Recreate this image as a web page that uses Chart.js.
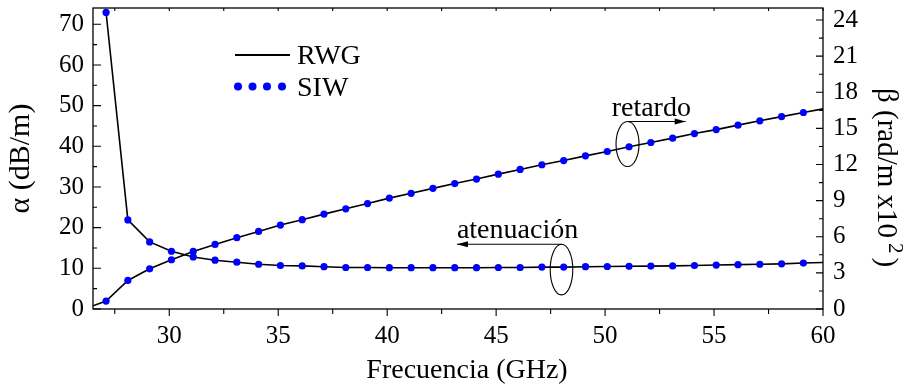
<!DOCTYPE html>
<html>
<head>
<meta charset="utf-8">
<script src="https://cdn.jsdelivr.net/npm/chart.js@4.4.1/dist/chart.umd.min.js"></script>
<style>
  body { margin: 0; background: #fff; }
  #wrap { width: 914px; height: 388px; }
</style>
</head>
<body>
<div id="wrap"><canvas id="chart-siw" width="914" height="388"></canvas></div>
<script>
// Frequency sweep (GHz)
const rwgFreq = [26.5, 27.1, 28.1, 29.1, 30.1, 31.1, 32.1, 33.1, 34.1, 35.1, 36.1, 37.1, 38.1, 39.1, 40.1,
    41.1, 42.1, 43.1, 44.1, 45.1, 46.1, 47.1, 48.1, 49.1, 50.1, 51.1, 52.1, 53.1, 54.1, 55.1,
    56.1, 57.1, 58.1, 59.1, 60];
const siwFreq = [27.1, 28.1, 29.1, 30.1, 31.1, 32.1, 33.1, 34.1, 35.1, 36.1, 37.1, 38.1, 39.1, 40.1,
    41.1, 42.1, 43.1, 44.1, 45.1, 46.1, 47.1, 48.1, 49.1, 50.1, 51.1, 52.1, 53.1, 54.1, 55.1,
    56.1, 57.1, 58.1, 59.1];

// Attenuation alpha (dB/m)
const rwgAlpha = [null, 72.9, 21.9, 16.5, 14.2, 12.8, 12.0, 11.5, 11.0, 10.7, 10.6, 10.4, 10.2, 10.2, 10.15,
    10.15, 10.15, 10.15, 10.15, 10.2, 10.2, 10.3, 10.3, 10.4, 10.45, 10.5, 10.55, 10.6, 10.7, 10.8,
    10.9, 11.0, 11.1, 11.3, 11.45];
const siwAlpha = [72.9, 21.9, 16.5, 14.2, 12.8, 12.0, 11.5, 11.0, 10.7, 10.6, 10.4, 10.2, 10.2, 10.15,
    10.15, 10.15, 10.15, 10.15, 10.2, 10.2, 10.3, 10.3, 10.4, 10.45, 10.5, 10.55, 10.6, 10.7, 10.8,
    10.9, 11.0, 11.1, 11.3];

// Phase constant beta (rad/m x10^2)
const rwgBeta = [0.27, 0.66, 2.37, 3.34, 4.09, 4.78, 5.36, 5.92, 6.44, 6.97, 7.42, 7.88, 8.32, 8.76, 9.21,
    9.61, 10.02, 10.42, 10.79, 11.2, 11.59, 11.98, 12.33, 12.72, 13.08, 13.47, 13.83, 14.19, 14.57, 14.9,
    15.27, 15.63, 15.98, 16.32, 16.62];
const siwBeta = [0.66, 2.37, 3.34, 4.09, 4.78, 5.36, 5.92, 6.44, 6.97, 7.42, 7.88, 8.32, 8.76, 9.21,
    9.61, 10.02, 10.42, 10.79, 11.2, 11.59, 11.98, 12.33, 12.72, 13.08, 13.47, 13.83, 14.19, 14.57, 14.9,
    15.27, 15.63, 15.98, 16.32];

// Axis ticks
const xMajor = [30, 35, 40, 45, 50, 55, 60];
const xMinor = [27.5, 32.5, 37.5, 42.5, 47.5, 52.5, 57.5];
const alphaMajor = [0, 10, 20, 30, 40, 50, 60, 70];
const alphaMinor = [5, 15, 25, 35, 45, 55, 65];
const betaMajor = [0, 3, 6, 9, 12, 15, 18, 21, 24];
const betaMinor = [1.5, 4.5, 7.5, 10.5, 13.5, 16.5, 19.5, 22.5];

const serif = '"Liberation Serif", "Times New Roman", serif';

const toXY = (xs, ys) => xs.map((x, i) => ({ x: x, y: ys[i] }));

// keep the plot box fixed: no extra room for overhanging tick labels
const fixBox = size => s => {
    if (s.isHorizontal()) s.height = size; else s.width = size;
    s.paddingTop = 0;
    s.paddingBottom = 0;
    s.paddingLeft = 0;
    s.paddingRight = 0;
};

// frame, tick marks, legend, axis titles and the two callouts
const decorations = {
    id: 'decorations',
    afterDraw(chart) {
        const { ctx, chartArea: a, scales } = chart;
        const sx = scales.x, sa = scales.yA, sb = scales.yB;
        ctx.save();

        ctx.strokeStyle = '#000';
        ctx.lineWidth = 1.3;
        ctx.strokeRect(a.left, a.top, a.right - a.left, a.bottom - a.top);

        ctx.lineWidth = 1.1;
        ctx.beginPath();
        const tick = (x1, y1, x2, y2) => { ctx.moveTo(x1, y1); ctx.lineTo(x2, y2); };
        xMajor.forEach(v => { const p = sx.getPixelForValue(v); tick(p, a.bottom, p, a.bottom + 7); tick(p, a.top, p, a.top + 3); });
        xMinor.forEach(v => { const p = sx.getPixelForValue(v); tick(p, a.bottom, p, a.bottom + 5); tick(p, a.top, p, a.top + 3); });
        alphaMajor.forEach(v => { const p = sa.getPixelForValue(v); tick(a.left, p, a.left + 8, p); });
        alphaMinor.forEach(v => { const p = sa.getPixelForValue(v); tick(a.left, p, a.left + 4, p); });
        betaMajor.forEach(v => { const p = sb.getPixelForValue(v); tick(a.right, p, a.right - 7, p); });
        betaMinor.forEach(v => { const p = sb.getPixelForValue(v); tick(a.right, p, a.right - 4, p); });
        ctx.stroke();

        // legend
        ctx.fillStyle = '#000';
        ctx.font = '28px ' + serif;
        ctx.textBaseline = 'alphabetic';
        ctx.textAlign = 'left';
        ctx.lineWidth = 2;
        ctx.beginPath();
        ctx.moveTo(235, 55);
        ctx.lineTo(290, 55);
        ctx.stroke();
        ctx.fillText('RWG', 297, 64);
        ctx.fillStyle = '#0000ff';
        [238, 252.5, 267, 282].forEach(x => {
            ctx.beginPath();
            ctx.arc(x, 86.5, 4, 0, Math.PI * 2);
            ctx.fill();
        });
        ctx.fillStyle = '#000';
        ctx.fillText('SIW', 297, 96);

        // bottom axis title
        ctx.textAlign = 'center';
        ctx.fillText('Frecuencia (GHz)', 467, 378);
        ctx.textAlign = 'left';

        // right axis title, rotated clockwise, with a raised exponent
        ctx.save();
        ctx.translate(878, 88);
        ctx.rotate(Math.PI / 2);
        ctx.font = '29px ' + serif;
        const head = 'β (rad/m x10';
        ctx.fillText(head, 0, 0);
        let w = ctx.measureText(head).width + 5;
        ctx.font = '21px ' + serif;
        ctx.fillText('2', w, -11);
        w += ctx.measureText('2').width + 4;
        ctx.font = '29px ' + serif;
        ctx.fillText(')', w, 0);
        ctx.restore();

        // callouts
        const callout = (text, cx, cy, rx, ry, tipX, textX, textY, scaleY) => {
            const px = sx.getPixelForValue(cx), py = scaleY.getPixelForValue(cy);
            const tip = sx.getPixelForValue(tipX);
            const top = py - ry;
            ctx.lineWidth = 1.1;
            ctx.beginPath();
            ctx.ellipse(px, py, rx, ry, 0, 0, Math.PI * 2);
            ctx.stroke();
            ctx.beginPath();
            ctx.moveTo(px, top);
            ctx.lineTo(tip, top);
            ctx.stroke();
            const dir = tip > px ? 1 : -1;
            ctx.beginPath();
            ctx.moveTo(tip, top);
            ctx.lineTo(tip - dir * 11, top - 3);
            ctx.lineTo(tip - dir * 11, top + 3);
            ctx.closePath();
            ctx.fill();
            ctx.font = '28px ' + serif;
            ctx.fillText(text, sx.getPixelForValue(textX), scaleY.getPixelForValue(textY));
        };
        callout('retardo', 51.03, 13.7, 11.5, 22.5, 53.7, 50.3, 16.04, sb);
        callout('atenuación', 48.0, 9.7, 11.3, 25.3, 43.2, 43.2, 17.45, sa);

        ctx.restore();
    }
};

new Chart(document.getElementById('chart-siw'), {
    type: 'scatter',
    data: {
        datasets: [
            {
                label: 'SIW α',
                data: toXY(siwFreq, siwAlpha),
                yAxisID: 'yA',
                order: 0,
                showLine: false,
                pointBackgroundColor: '#0000ff',
                pointBorderWidth: 0,
                pointRadius: 3.6
            },
            {
                label: 'SIW β',
                data: toXY(siwFreq, siwBeta),
                yAxisID: 'yB',
                order: 0,
                showLine: false,
                pointBackgroundColor: '#0000ff',
                pointBorderWidth: 0,
                pointRadius: 3.6
            },
            {
                label: 'RWG α',
                data: toXY(rwgFreq, rwgAlpha),
                yAxisID: 'yA',
                order: 1,
                showLine: true,
                borderColor: '#000',
                borderWidth: 1.6,
                pointRadius: 0
            },
            {
                label: 'RWG β',
                data: toXY(rwgFreq, rwgBeta),
                yAxisID: 'yB',
                order: 1,
                showLine: true,
                borderColor: '#000',
                borderWidth: 1.6,
                pointRadius: 0
            }
        ]
    },
    options: {
        responsive: false,
        animation: false,
        devicePixelRatio: 1,
        layout: { padding: { top: 8, left: 0, right: 0, bottom: 0 } },
        plugins: { legend: { display: false }, tooltip: { enabled: false } },
        scales: {
            x: {
                type: 'linear',
                position: 'bottom',
                min: 26.5,
                max: 60,
                afterBuildTicks: s => { s.ticks = xMajor.map(v => ({ value: v })); },
                afterFit: fixBox(79),
                grid: { display: false, drawTicks: false },
                border: { display: false },
                ticks: { font: { family: serif, size: 25 }, color: '#000', padding: 12, maxRotation: 0 }
            },
            yA: {
                type: 'linear',
                position: 'left',
                min: 0,
                max: 74,
                afterBuildTicks: s => { s.ticks = alphaMajor.map(v => ({ value: v })); },
                afterFit: fixBox(93),
                grid: { display: false, drawTicks: false },
                border: { display: false },
                ticks: { font: { family: serif, size: 25 }, color: '#000', padding: 9 },
                title: { display: true, text: 'α (dB/m)', font: { family: serif, size: 30 }, color: '#000', padding: { top: 3, bottom: 0 } }
            },
            yB: {
                type: 'linear',
                position: 'right',
                min: 0,
                max: 25,
                afterBuildTicks: s => { s.ticks = betaMajor.map(v => ({ value: v })); },
                afterFit: fixBox(91),
                grid: { display: false, drawTicks: false },
                border: { display: false },
                ticks: { font: { family: serif, size: 25 }, color: '#000', padding: 10 }
            }
        }
    },
    plugins: [decorations]
});
</script>
</body>
</html>
